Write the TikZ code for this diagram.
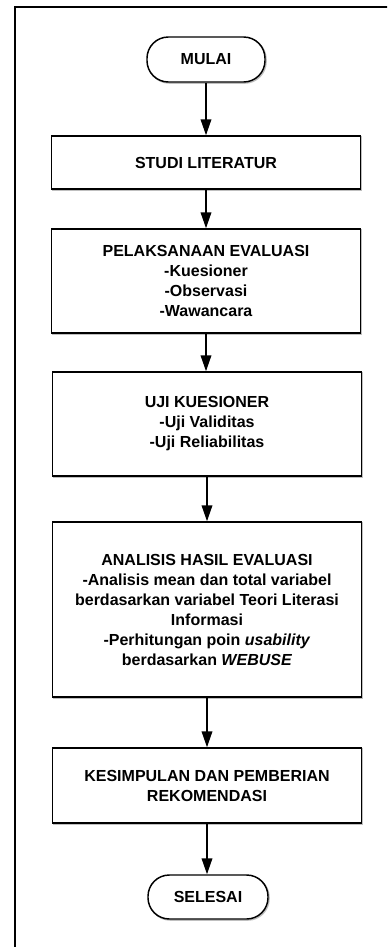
\documentclass[tikz,border=0pt]{standalone}
\usepackage{fontspec}
\setmainfont{Liberation Sans}
\usetikzlibrary{arrows.meta}
\begin{document}
\begin{tikzpicture}[x=0.75pt,y=-0.75pt,
  base/.style={draw=black, line width=1.1pt, fill=white, align=center, inner sep=0pt,
    font=\fontsize{12}{15}\selectfont\bfseries,
    preaction={draw=black!25, line width=1.1pt, transform canvas={xshift=0.8pt,yshift=-0.8pt}}},
  procbox/.style={base, minimum width=231.75pt},
  termbox/.style={base, rounded corners=16pt},
  flow/.style={line width=1.1pt, -{Triangle[length=12pt,width=8pt]}}]
\useasboundingbox (0,0) rectangle (387,947);
\begin{scope}
\clip (0,0) rectangle (387,947);
\draw[line width=1.6pt] (15,7) rectangle (420,990);
\end{scope}
\node[termbox, minimum width=88.5pt, minimum height=33.75pt] (mulai) at (206,59.5) {MULAI};
\node[procbox, minimum height=39.75pt] (studi) at (206,162.5) {STUDI LITERATUR};
\node[procbox, minimum height=78pt] (pelak) at (206,281) {PELAKSANAAN EVALUASI\\-Kuesioner\\-Observasi\\-Wawancara};
\node[procbox, minimum height=78pt] (uji) at (207,424) {UJI KUESIONER\\-Uji Validitas\\-Uji Reliabilitas};
\node[procbox, minimum height=131.25pt] (anal) at (207,609.5) {ANALISIS HASIL EVALUASI\\-Analisis mean dan total variabel\\berdasarkan variabel Teori Literasi\\Informasi\\-Perhitungan poin \textit{usability}\\berdasarkan \textit{WEBUSE}};
\node[procbox, minimum height=56.25pt] (kesim) at (207,785.5) {KESIMPULAN DAN PEMBERIAN\\REKOMENDASI};
\node[termbox, minimum width=90pt, minimum height=33pt] (selesai) at (208,897) {SELESAI};
\draw[flow] (mulai.south) -- (mulai.south |- studi.north);
\draw[flow] (studi.south) -- (studi.south |- pelak.north);
\draw[flow] (pelak.south) -- (pelak.south |- uji.north);
\draw[flow] (uji.south) -- (uji.south |- anal.north);
\draw[flow] (anal.south) -- (anal.south |- kesim.north);
\draw[flow] (kesim.south) -- (kesim.south |- selesai.north);
\end{tikzpicture}
\end{document}
